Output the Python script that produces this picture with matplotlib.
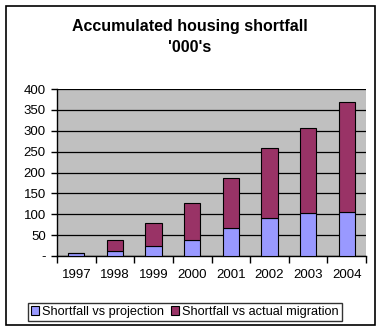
import matplotlib
matplotlib.use("Agg")
import matplotlib.pyplot as plt
from matplotlib.patches import Rectangle
import numpy as np

years = ["1997", "1998", "1999", "2000", "2001", "2002", "2003", "2004"]
vs_projection = [7, 11, 23, 37.5, 66, 90, 102, 105]
vs_migration = [0, 26.5, 55, 88.5, 122, 168, 204, 265]
yticks = [0, 50, 100, 150, 200, 250, 300, 350, 400]
ytick_labels = ["-", "50", "100", "150", "200", "250", "300", "350", "400"]

plt.rcParams['font.family'] = ['Liberation Sans', 'DejaVu Sans']

W, H = 381, 331
fig = plt.figure(figsize=(W / 100, H / 100), dpi=100)
fig.patch.set_facecolor("white")

# outer frame
fig.patches.append(Rectangle((5.5 / W, 1 - 324.5 / H), 369 / W, 319 / H,
                             transform=fig.transFigure, fill=False,
                             edgecolor="black", linewidth=1.2))

ax = fig.add_axes([57 / W, 1 - 256 / H, (366 - 57) / W, (256 - 89) / H])
ax.set_facecolor("#C0C0C0")
x = np.arange(len(years))
ax.bar(x, vs_projection, width=0.42, color="#9999FF", edgecolor="black",
       linewidth=0.8, label="Shortfall vs projection", zorder=3)
ax.bar(x, vs_migration, width=0.42, bottom=vs_projection, color="#993366",
       edgecolor="black", linewidth=0.8, label="Shortfall vs actual migration", zorder=3)

ax.set_xlim(-0.5, len(years) - 0.5)
ax.set_ylim(0, 400)
ax.set_yticks(yticks)
ax.set_yticklabels(ytick_labels, fontsize=9.5)
ax.yaxis.grid(True, color="black", linewidth=0.9, zorder=1)
ax.set_axisbelow(True)

ax.set_xticks(x)
ax.set_xticklabels(years, fontsize=9.5)
ax.tick_params(axis="x", length=0, pad=9)
ax.set_xticks(np.arange(len(years) + 1) - 0.5, minor=True)
ax.tick_params(axis="x", which="minor", length=5, width=1, direction="out")
ax.tick_params(axis="y", length=4, width=1, direction="out", pad=4)

for s in ["top", "right"]:
    ax.spines[s].set_visible(False)
ax.spines["left"].set_linewidth(1)
ax.spines["bottom"].set_linewidth(1)

fig.text(190 / W, 1 - 27 / H, "Accumulated housing shortfall", ha="center",
         va="center", fontsize=11.5, fontweight="bold")
fig.text(190 / W, 1 - 48 / H, "'000's", ha="center", va="center",
         fontsize=11.5, fontweight="bold")

leg = fig.legend(loc="center", bbox_to_anchor=(185 / W, 1 - 312 / H), ncol=2,
                 fontsize=9.2, frameon=True, fancybox=False, edgecolor="black",
                 handlelength=0.6, handleheight=0.6, handletextpad=0.3,
                 columnspacing=0.5, borderpad=0.25, borderaxespad=0)
leg.get_frame().set_linewidth(1)

fig.savefig("out.png", dpi=100)
